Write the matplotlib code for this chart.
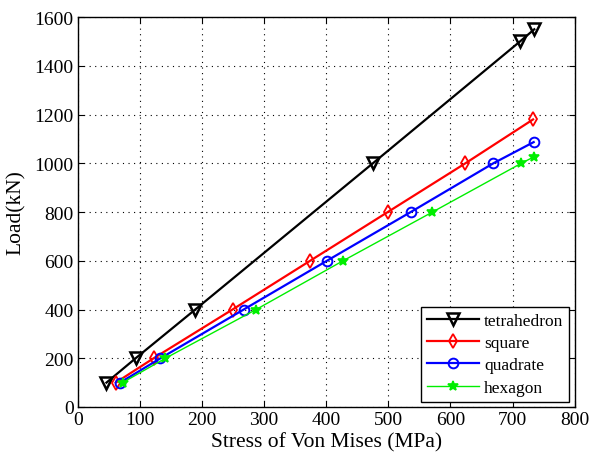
import matplotlib
matplotlib.use("Agg")
import matplotlib.pyplot as plt

# Data (Stress of Von Mises in MPa, Load in kN)
tetra_x = [46, 93, 189, 475, 712, 735]
tetra_y = [100, 200, 400, 1000, 1500, 1550]
square_x = [61, 122, 249, 374, 499, 624, 733]
square_y = [100, 200, 400, 600, 800, 1000, 1180]
quad_x = [68, 133, 267, 401, 536, 669, 734]
quad_y = [100, 200, 400, 600, 800, 1000, 1087]
hex_x = [72, 141, 287, 427, 571, 714, 734]
hex_y = [100, 200, 400, 600, 800, 1000, 1026]

x_ticks = [0, 100, 200, 300, 400, 500, 600, 700, 800]
y_ticks = [0, 200, 400, 600, 800, 1000, 1200, 1400, 1600]

plt.rcParams['font.family'] = ['Liberation Serif', 'DejaVu Serif']
plt.rcParams['mathtext.fontset'] = 'stix'

fig = plt.figure(figsize=(5.9, 4.64), dpi=100)
ax = fig.add_axes([0.132, 0.1207, 0.842, 0.8403])

ax.plot(tetra_x, tetra_y, color='black', lw=1.6, marker='v', ms=9,
        mfc='none', mec='black', mew=1.8, label='tetrahedron')
ax.plot(square_x, square_y, color='red', lw=1.6, marker='d', ms=7,
        mfc='none', mec='red', mew=1.3, label='square')
ax.plot(quad_x, quad_y, color='blue', lw=1.6, marker='o', ms=7,
        mfc='none', mec='blue', mew=1.4, label='quadrate')
ax.plot(hex_x, hex_y, color='#00ee00', lw=1.0, marker='*', ms=7.5,
        mfc='#00ee00', mec='#00ee00', mew=1.2, label='hexagon')

ax.set_xlim(0, 800)
ax.set_ylim(0, 1600)
ax.set_xticks(x_ticks)
ax.set_yticks(y_ticks)
ax.tick_params(direction='in', top=True, right=True, labelsize=14,
               length=4, width=0.8, pad=3)
ax.grid(True, color='black', linestyle=(0, (1, 4)), linewidth=0.8)
for s in ax.spines.values():
    s.set_linewidth(1.0)

ax.set_xlabel('Stress of Von Mises (MPa)', fontsize=15.5, labelpad=3)
ax.set_ylabel('Load(kN)', fontsize=15.5, labelpad=6)

leg = ax.legend(loc='lower right', fontsize=12.5, frameon=True, fancybox=False,
                edgecolor='black', framealpha=1, handlelength=3.0,
                borderpad=0.35, labelspacing=0.35, handletextpad=0.3,
                borderaxespad=0.3)
leg.get_frame().set_linewidth(1.0)

fig.savefig('out.png', dpi=100)
